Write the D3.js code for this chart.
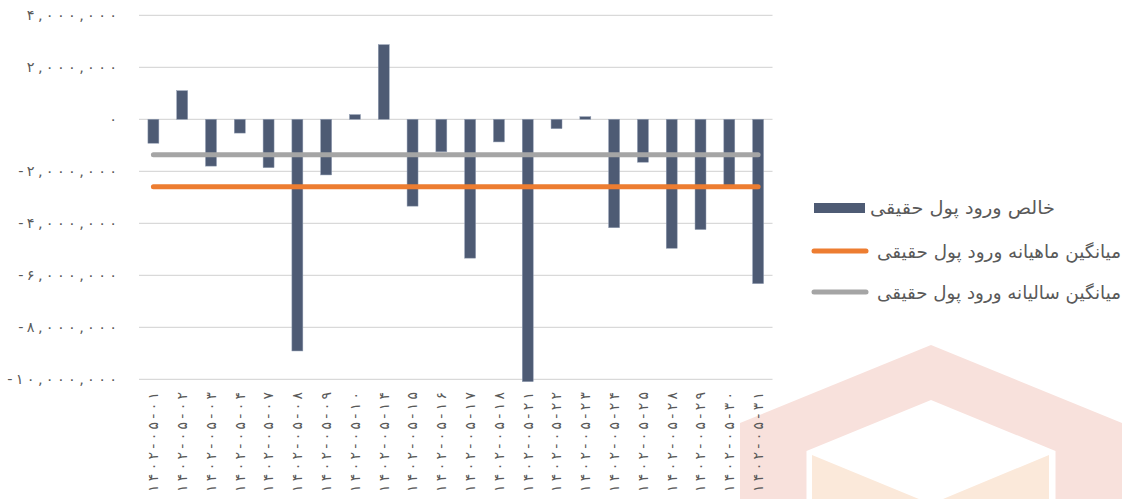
<!DOCTYPE html>
<html lang="fa">
<head>
<meta charset="utf-8">
<script src="https://cdn.jsdelivr.net/npm/d3@7"></script>
<style>
  html, body { margin: 0; padding: 0; background: #ffffff; }
  svg { display: block; }
  text { font-family: "DejaVu Sans", "Noto Sans", sans-serif; fill: #595959; }
</style>
</head>
<body>
<svg id="chart" width="1128" height="499"></svg>
<script>
// Daily dates (1402/05) and net real-money inflow per day
const categories = [
  "۱۴۰۲-۰۵-۰۱", "۱۴۰۲-۰۵-۰۲", "۱۴۰۲-۰۵-۰۳", "۱۴۰۲-۰۵-۰۴", "۱۴۰۲-۰۵-۰۷",
  "۱۴۰۲-۰۵-۰۸", "۱۴۰۲-۰۵-۰۹", "۱۴۰۲-۰۵-۱۰", "۱۴۰۲-۰۵-۱۴", "۱۴۰۲-۰۵-۱۵",
  "۱۴۰۲-۰۵-۱۶", "۱۴۰۲-۰۵-۱۷", "۱۴۰۲-۰۵-۱۸", "۱۴۰۲-۰۵-۲۱", "۱۴۰۲-۰۵-۲۲",
  "۱۴۰۲-۰۵-۲۳", "۱۴۰۲-۰۵-۲۴", "۱۴۰۲-۰۵-۲۵", "۱۴۰۲-۰۵-۲۸", "۱۴۰۲-۰۵-۲۹",
  "۱۴۰۲-۰۵-۳۰", "۱۴۰۲-۰۵-۳۱"
];
const netInflow = [
  -920000, 1100000, -1800000, -530000, -1860000,
  -8910000, -2140000, 180000, 2870000, -3340000,
  -1250000, -5340000, -870000, -10090000, -360000,
  100000, -4170000, -1650000, -4960000, -4240000,
  -2630000, -6320000
];
const monthlyAverage = -2595000;
const yearlyAverage = -1360000;

const yTickValues = [4000000, 2000000, 0, -2000000, -4000000, -6000000, -8000000, -10000000];
const yTickLabels = [
  "۴,۰۰۰,۰۰۰", "۲,۰۰۰,۰۰۰", "۰", "-۲,۰۰۰,۰۰۰",
  "-۴,۰۰۰,۰۰۰", "-۶,۰۰۰,۰۰۰", "-۸,۰۰۰,۰۰۰", "-۱۰,۰۰۰,۰۰۰"
];

const seriesNames = [
  "خالص ورود پول حقیقی",
  "میانگین ماهیانه ورود پول حقیقی",
  "میانگین سالیانه ورود پول حقیقی"
];

const colors = { bar: "#4e5b74", monthly: "#ed7d31", yearly: "#a5a5a5", grid: "#d9d9d9" };

const svg = d3.select("#chart");

// spread characters apart (letter-spacing is not honoured for Arabic script)
function spread(sel, gap) {
  sel.each(function () {
    const n = this.textContent.length;
    if (n < 2) return;
    const w = this.getComputedTextLength();
    d3.select(this).attr("textLength", w + (n - 1) * gap).attr("lengthAdjust", "spacing");
  });
}

// faint logo behind the chart
const logo = svg.append("g");
const hex = (cx, top, halfW, shoulder, bottom) =>
  [[cx, top], [cx + halfW, shoulder], [cx + halfW, bottom], [cx - halfW, bottom], [cx - halfW, shoulder]];
logo.append("polygon").attr("points", hex(931, 345, 191, 423, 620).join(" ")).attr("fill", "#f8e1dc");
logo.append("polygon").attr("points", hex(931, 400, 124.5, 451, 620).join(" ")).attr("fill", "#ffffff");
logo.append("polygon")
  .attr("points", [[812, 455], [931, 504], [1049, 455], [1049, 620], [812, 620]].join(" "))
  .attr("fill", "#fbe9da");

const x = d3.scaleBand()
  .domain(categories)
  .range([139, 772.5])
  .paddingInner(0.62)
  .paddingOuter(0.31);

const y = d3.scaleLinear()
  .domain([-10000000, 4000000])
  .range([379.3, 15.3]);

// horizontal gridlines
svg.append("g")
  .selectAll("line")
  .data(yTickValues)
  .join("line")
  .attr("x1", 139).attr("x2", 772.5)
  .attr("y1", d => y(d)).attr("y2", d => y(d))
  .attr("stroke", colors.grid)
  .attr("stroke-width", 1.3);

// y axis labels
const yAxis = d3.axisLeft(y)
  .tickValues(yTickValues)
  .tickSize(0)
  .tickPadding(0)
  .tickFormat((d, i) => yTickLabels[i]);
const yg = svg.append("g").attr("transform", "translate(117,0)").call(yAxis);
yg.select(".domain").remove();
yg.selectAll("text")
  .style("font-family", "DejaVu Sans")
  .style("font-size", "14.5px")
  .attr("fill", "#595959")
  .call(spread, 3.3);

// bars
svg.append("g")
  .selectAll("rect")
  .data(netInflow)
  .join("rect")
  .attr("x", (d, i) => x(categories[i]))
  .attr("width", x.bandwidth())
  .attr("y", d => y(Math.max(0, d)))
  .attr("height", d => Math.abs(y(d) - y(0)))
  .attr("fill", colors.bar)
  .attr("stroke", "#8e9ab0")
  .attr("stroke-width", 0.5);

// average lines across the month
const firstX = x(categories[0]) + x.bandwidth() / 2;
const lastX = x(categories[categories.length - 1]) + x.bandwidth() / 2;
[[yearlyAverage, colors.yearly], [monthlyAverage, colors.monthly]].forEach(([v, c]) => {
  svg.append("line")
    .attr("x1", firstX).attr("x2", lastX)
    .attr("y1", y(v)).attr("y2", y(v))
    .attr("stroke", c)
    .attr("stroke-width", 5)
    .attr("stroke-linecap", "round");
});

// x axis labels, rotated
const xAxis = d3.axisBottom(x).tickSize(0).tickPadding(0);
const xg = svg.append("g").attr("transform", "translate(0,392)").call(xAxis);
xg.select(".domain").remove();
xg.selectAll("text")
  .style("font-family", "DejaVu Sans")
  .style("font-size", "14px")
  .attr("fill", "#595959")
  .attr("text-anchor", "end")
  .attr("transform", "rotate(-90)")
  .attr("x", 0)
  .attr("y", 0)
  .attr("dy", "0.35em")
  .attr("textLength", 100)
  .attr("lengthAdjust", "spacing");

// legend
const legend = svg.append("g");
legend.append("rect")
  .attr("x", 814).attr("y", 203).attr("width", 51).attr("height", 10)
  .attr("fill", colors.bar);
legend.append("line")
  .attr("x1", 814).attr("x2", 866).attr("y1", 251).attr("y2", 251)
  .attr("stroke", colors.monthly).attr("stroke-width", 5).attr("stroke-linecap", "round");
legend.append("line")
  .attr("x1", 814).attr("x2", 866).attr("y1", 292).attr("y2", 292)
  .attr("stroke", colors.yearly).attr("stroke-width", 5).attr("stroke-linecap", "round");
const legendPos = [[870, 214, 185], [877, 258, 244], [877, 299, 244]];
legend.selectAll("text.lg")
  .data(seriesNames)
  .join("text")
  .attr("class", "lg")
  .attr("x", (d, i) => legendPos[i][0])
  .attr("y", (d, i) => legendPos[i][1])
  .attr("textLength", (d, i) => legendPos[i][2])
  .attr("lengthAdjust", "spacingAndGlyphs")
  .attr("text-anchor", "start")
  .style("font-size", "18px")
  .attr("fill", "#595959")
  .text(d => d);
</script>
</body>
</html>
